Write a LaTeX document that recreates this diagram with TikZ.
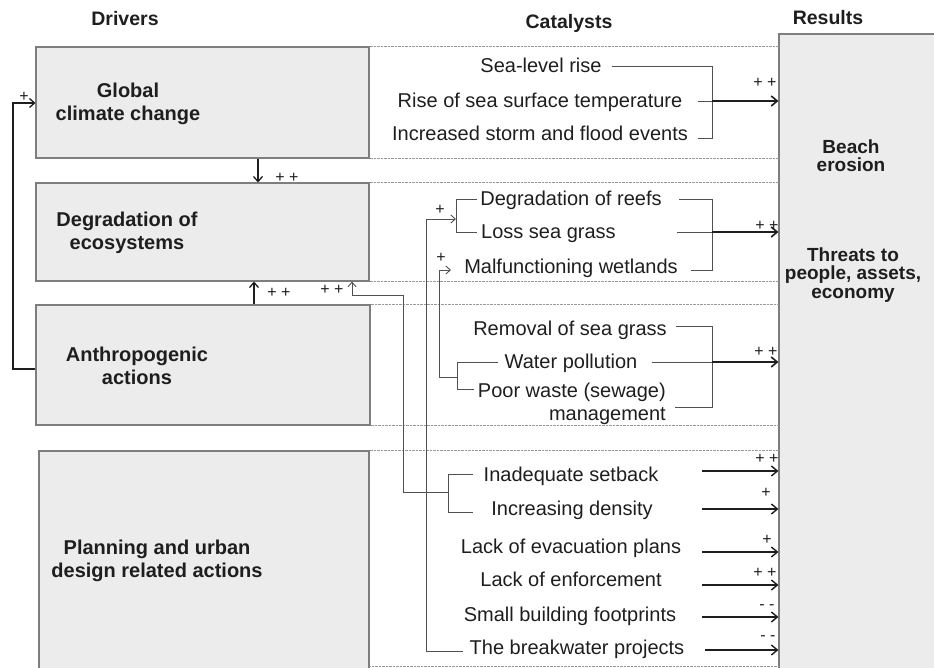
\documentclass[tikz,border=0pt]{standalone}
\usepackage{fontspec}
\setmainfont{Liberation Sans}
\usetikzlibrary{arrows.meta}

\definecolor{boxfill}{HTML}{ECECEC}
\definecolor{boxline}{HTML}{7E7E7E}
\definecolor{wire}{HTML}{505050}
\definecolor{ink}{HTML}{1E1E1E}
\definecolor{dotline}{HTML}{9A9A9A}

% invisible rule that fixes the height of a first text line
\newcommand{\tallstrut}{\rule{0pt}{16pt}}

\begin{document}
\begin{tikzpicture}[x=1pt,y=-1pt,
  dbox/.style={draw=boxline,fill=boxfill,line width=1.1pt,inner sep=0pt},
  dlabel/.style={font=\bfseries\fontsize{20}{23.5}\selectfont,align=center,anchor=north,inner sep=0pt,text=ink},
  rlabel/.style={font=\bfseries\fontsize{19}{18.5}\selectfont,align=center,anchor=north,inner sep=0pt,text=ink},
  head/.style={font=\bfseries\fontsize{19.5}{22}\selectfont,anchor=base,inner sep=0pt,text=ink},
  cat/.style={font=\fontsize{20}{23}\selectfont,anchor=base,inner sep=0pt,text=ink},
  sign/.style={font=\fontsize{16}{16}\selectfont,inner sep=0pt,text=ink},
  guide/.style={draw=dotline,line width=0.7pt,dash pattern=on 0.7pt off 0.7pt},
  thin/.style={draw=wire,line width=0.9pt},
  link/.style={draw=wire,line width=0.9pt,-{Straight Barb[length=4.5pt,width=8pt]}},
  drive/.style={draw=ink,line width=1.3pt,-{Straight Barb[length=5pt,width=9pt]}},
  effect/.style={draw=ink,line width=1.6pt,-{Straight Barb[length=6pt,width=10pt]}},
]
\useasboundingbox (0,0) rectangle (934,668);
\clip (0,0) rectangle (934,668);

% ---------- result column ----------
\node[dbox,minimum width=200,minimum height=700] (res) at (879,384) {};

% ---------- driver boxes ----------
\node[dbox,minimum width=333,minimum height=111] (gcc) at (202.5,102.5) {};
\node[dbox,minimum width=333,minimum height=98]  (deg) at (202.5,232) {};
\node[dbox,minimum width=334,minimum height=120] (ant) at (203,365) {};
\node[dbox,minimum width=330,minimum height=260] (pla) at (204,581) {};

% ---------- dotted row guides ----------
\coordinate (rowend) at (369,666);
\foreach \c in {gcc.north east,gcc.south east,deg.north east,deg.south east,
                ant.north east,ant.south east,pla.north east,rowend}
  \draw[guide] (\c) -- (\c -| res.west);

% ---------- column heads ----------
\node[head] (hdrv) at (125,26) {Drivers};
\node[head] (hcat) at (569,29) {Catalysts};
\node[head] (hres) at (828,25) {Results};

% ---------- driver labels ----------
\node[dlabel] (gccT) at (128,81)  {\tallstrut Global\\climate change};
\node[dlabel] (degT) at (127,210) {\tallstrut Degradation of\\ecosystems};
\node[dlabel] (antT) at (137,345) {\tallstrut Anthropogenic\\actions};
\node[dlabel] (plaT) at (157,538) {\tallstrut Planning and urban\\design related actions};

% ---------- result labels ----------
\node[rlabel] (beT) at (851,137) {\tallstrut Beach\\erosion};
\node[rlabel] (thT) at (853,245) {\tallstrut Threats to\\people, assets,\\economy};

% ---------- catalysts ----------
\node[cat] (slr)  at (541,73)  {Sea-level rise};
\node[cat] (rsst) at (540,108) {Rise of sea surface temperature};
\node[cat] (isfe) at (540,141) {Increased storm and flood events};

\node[cat] (dor)  at (571,206) {Degradation of reefs};
\node[cat,anchor=base west] (lsg) at (481,239) {Loss sea grass};
\node[cat] (mw)   at (571,274) {Malfunctioning wetlands};

\node[cat] (rsg)  at (570,335) {Removal of sea grass};
\node[cat] (wp)   at (571,368) {Water pollution};
\node[cat,anchor=north east,align=right] (pw) at (666,381) {\tallstrut Poor waste (sewage)\\management};

\node[cat] (ias)  at (571,481) {Inadequate setback};
\node[cat] (incd) at (572,515) {Increasing density};
\node[cat] (lep)  at (571,553) {Lack of evacuation plans};
\node[cat] (loe)  at (571,586) {Lack of enforcement};
\node[cat] (sbf)  at (570,621) {Small building footprints};
\node[cat] (bwp)  at (577,654) {The breakwater projects};

% ---------- right-hand brackets and effects on the results ----------
\draw[thin] (612,66) -- (712,66) -- (712,138) -- (698,138);
\draw[thin] (698,101) -- (712,101);
\coordinate (jA) at (712,101);
\draw[effect] (jA) -- (jA -| res.west);

\draw[thin] (679,199) -- (712,199) -- (712,270) -- (691,270);
\draw[thin] (677,232) -- (712,232);
\coordinate (jB) at (712,232);
\draw[effect] (jB) -- (jB -| res.west);

\draw[thin] (676,326) -- (712,326) -- (712,407) -- (675,407);
\draw[thin] (652,362) -- (712,362);
\coordinate (jC) at (712,362);
\draw[effect] (jC) -- (jC -| res.west);

\foreach \y/\n in {471/e1,509/e2,552/e3,585/e4,617/e5}
  \coordinate (\n) at (702,\y);
\coordinate (e6) at (705,650);
\foreach \n in {e1,e2,e3,e4,e5,e6}
  \draw[effect,line width=1.4pt] (\n) -- (\n -| res.west);

% ---------- left brackets ----------
\draw[thin] (477,199) -- (456,199) -- (456,232) -- (477,232);
\draw[thin] (498,362) -- (457,362) -- (457,389) -- (474,389);
\draw[thin] (473,474) -- (448,474) -- (448,512) -- (473,512);

% ---------- links between catalysts ----------
\coordinate (bwL) at (463,651);
\coordinate (reefIn) at (456,219);
\draw[link] (bwL) -- (426,651) -- (426,219) -- (reefIn);

\coordinate (wpJ) at (457,377);
\coordinate (mwIn) at (451,270);
\draw[link] (wpJ) -- (439,377) -- (439,270) -- (mwIn);

\coordinate (sbJ) at (448,492);
\coordinate (x352) at (352,295);
\draw[link] (sbJ) -- (403,492) -- (403,295) -- (x352) -- (x352 |- deg.south);

% ---------- links between drivers ----------
\coordinate (x258) at (258,0);
\draw[drive] (x258 |- gcc.south) -- (x258 |- deg.north);
\coordinate (x254) at (254,0);
\draw[drive] (x254 |- ant.north) -- (x254 |- deg.south);
\coordinate (yfb) at (0,369);
\coordinate (ytop) at (0,103);
\draw[drive] (yfb -| ant.west) -- (13,369) -- (13,103) -- (ytop -| gcc.west);

% ---------- signs ----------
\node[sign] (s1)  at (24,97)   {+};
\node[sign] (s2)  at (287,178) {+ +};
\node[sign] (s3)  at (279,293) {+ +};
\node[sign] (s4)  at (332,290) {+ +};
\node[sign] (s5)  at (440,210) {+};
\node[sign] (s6)  at (441,258) {+};
\node[sign] (s7)  at (765,83)  {+ +};
\node[sign] (s8)  at (767,226) {+ +};
\node[sign] (s9)  at (766,352) {+ +};
\node[sign] (s10) at (767,459) {+ +};
\node[sign] (s11) at (766,493) {+};
\node[sign] (s12) at (767,540) {+};
\node[sign] (s13) at (765,573) {+ +};
\node[sign] (s14) at (767,607) {- -};
\node[sign] (s15) at (768,638) {- -};
\end{tikzpicture}
\end{document}
